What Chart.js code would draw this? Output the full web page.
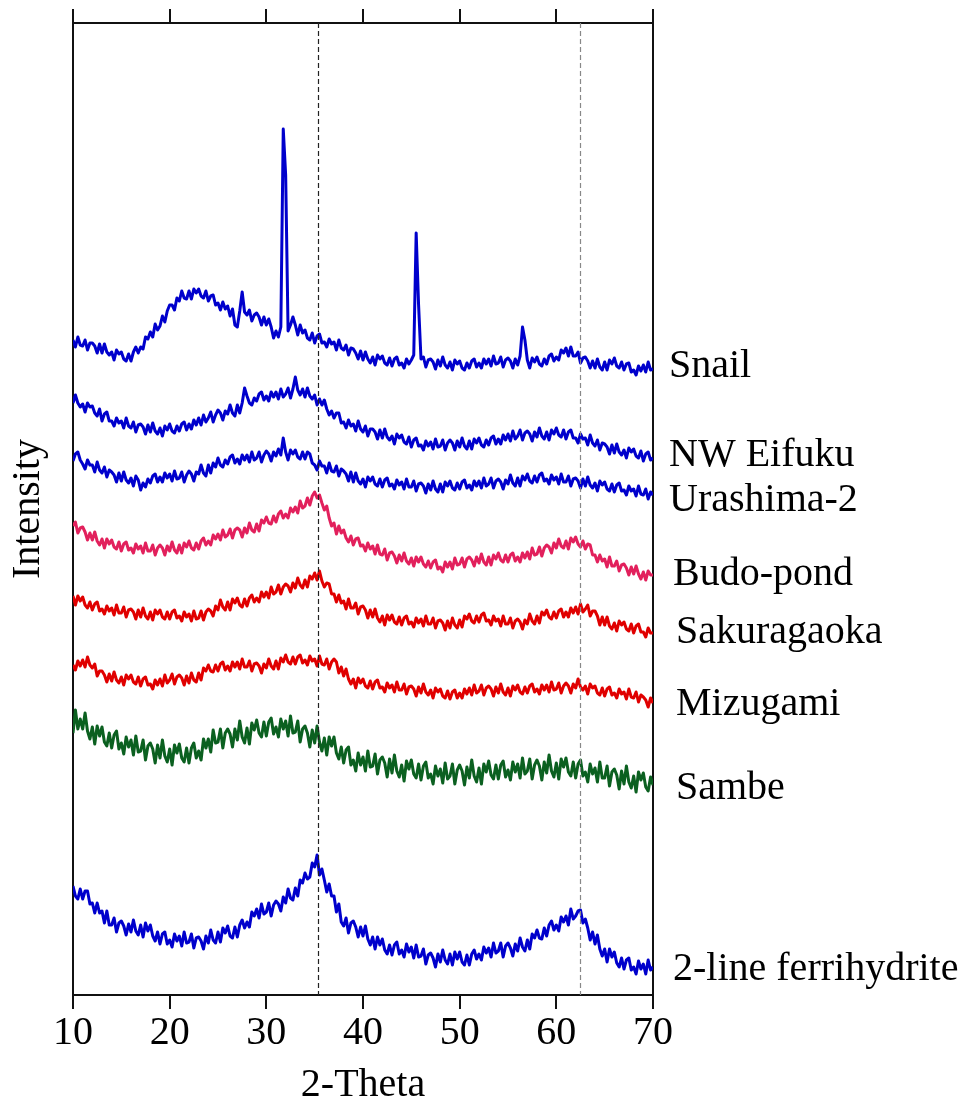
<!DOCTYPE html>
<html>
<head>
<meta charset="utf-8">
<script src="https://cdn.jsdelivr.net/npm/chart.js@4.4.1/dist/chart.umd.min.js"></script>
<style>
  html, body { margin: 0; padding: 0; background: #fff; }
</style>
</head>
<body>
<canvas id="xrdChart" width="967" height="1115"></canvas>
<script>
// 2-theta grid: 10..70 deg, 0.25 deg steps (241 points per pattern)
const twoTheta = [];
for (let i = 0; i <= 240; i++) twoTheta.push(10 + i * 0.25);

// patterns are stacked, intensities already carry their offset
const snail = [
 655,648,658,650, 649,655,645,652, 652,649,642,651, 642,651,643,640, 643,635,645,641,
 643,636,634,641, 634,643,648,642, 648,646,658,656, 663,658,671,665, 669,679,673,684,
 690,690,685,697, 694,704,697,696, 704,696,706,702, 706,699,697,704, 694,699,700,690,
 692,685,693,686, 689,679,686,670, 668,684,703,683, 680,685,674,680, 682,678,670,678,
 670,676,668,657, 664,658,668,866, 820,664,670,678, 670,660,670,662, 665,657,655,662,
 652,659,661,652, 653,648,656,651, 653,645,655,647, 645,650,640,647, 646,642,636,644,
 635,643,636,632, 638,630,640,636, 639,632,630,637, 629,636,638,630, 632,627,636,631,
 635,640,762,690, 636,638,628,635, 636,633,626,635, 629,638,630,627, 633,625,635,631,
 634,627,625,632, 627,634,636,628, 632,627,636,631, 636,629,639,631, 632,638,628,635,
 637,634,627,636, 630,639,668,655, 635,627,637,633, 638,631,629,636, 631,639,641,634,
 638,635,645,642, 647,639,648,639, 639,643,632,637, 638,634,627,634, 627,636,628,625,
 633,625,635,631, 637,629,627,633, 625,631,632,623, 625,620,629,624, 630,623,633,625,
 626];

const nwEifuku = [
 592,600,592,588, 591,583,592,588, 589,582,579,586, 574,581,583,574, 574,569,577,572,
 574,567,577,569, 567,573,563,570, 571,568,561,570, 563,572,564,561, 567,559,569,565,
 571,564,562,569, 564,571,573,565, 571,566,575,570, 577,570,580,573, 577,583,573,580,
 585,582,575,584, 581,590,582,579, 590,582,592,607, 599,592,590,597, 594,601,603,595,
 599,594,603,598, 603,596,606,598, 601,607,597,606, 618,605,600,606, 598,607,599,596,
 600,590,596,590, 595,586,580,584, 577,582,582,572, 573,567,575,569, 571,564,574,566,
 563,569,559,566, 566,563,556,565, 557,566,558,555, 559,551,561,557, 560,553,551,558,
 548,555,557,549, 550,545,554,549, 553,546,556,548, 549,555,545,552, 555,552,545,554,
 548,557,549,546, 554,546,556,552, 557,550,548,555, 550,557,559,551, 556,551,560,555,
 561,554,564,556, 559,565,555,562, 564,561,554,563, 558,567,559,556, 563,555,565,561,
 567,560,558,565, 556,563,565,557, 557,552,561,556, 557,550,560,552, 549,555,545,552,
 551,548,541,550, 542,551,543,540, 545,537,547,543, 546,539,537,544, 534,541,543,535,
 537];

const urashima2 = [
 534,541,543,535, 531,526,535,530, 530,523,533,525, 522,528,518,525, 523,520,513,522,
 514,523,515,512, 517,509,519,515, 505,512,508,516, 512,519,521,513, 518,513,522,517,
 521,514,524,516, 517,523,513,520, 524,521,514,523, 521,530,522,519, 530,522,532,528,
 537,530,528,535, 531,538,540,532, 536,531,540,535, 540,533,543,535, 537,543,533,540,
 544,541,534,543, 539,546,540,557, 543,535,545,541, 545,538,536,543, 536,543,541,532,
 530,525,534,529, 529,522,532,524, 523,529,519,526, 524,521,514,523, 513,522,514,511,
 516,508,518,514, 518,511,509,516, 508,515,517,509, 511,506,515,510, 513,506,516,508,
 508,514,504,511, 512,509,502,511, 505,514,506,503, 511,503,513,509, 514,507,505,512,
 506,513,515,507, 510,505,514,509, 514,507,517,509, 511,517,507,514, 516,513,506,515,
 511,520,512,509, 517,509,519,515, 521,514,512,519, 513,520,522,514, 516,511,520,515,
 518,511,521,513, 513,519,509,516, 517,514,507,516, 509,518,510,507, 512,504,514,510,
 513,506,504,511, 503,510,512,504, 505,500,509,504, 506,499,509,501, 500,506,496,503,
 500];

const budoPond = [
 469,473,462,467, 468,463,455,462, 455,463,454,450, 456,447,456,451, 455,448,446,453,
 444,451,453,445, 447,442,451,446, 449,442,452,444, 444,450,440,447, 450,447,440,449,
 444,453,445,442, 450,442,452,448, 454,447,445,452, 446,454,457,450, 454,450,460,456,
 461,455,465,458, 460,466,457,465, 467,465,458,467, 462,472,465,463, 471,464,475,472,
 478,472,471,479, 473,481,484,477, 481,477,487,483, 488,482,494,487, 489,497,490,499,
 503,497,500,492, 485,489,477,469, 472,461,469,462, 465,457,453,459, 450,456,457,449,
 450,444,452,446, 449,441,450,441, 440,446,435,442, 443,439,432,440, 434,442,434,431,
 437,429,438,433, 438,431,428,434, 427,433,435,426, 428,423,433,428, 433,426,437,430,
 431,437,428,436, 438,435,429,438, 432,441,433,430, 438,430,440,436, 442,435,433,440,
 433,440,442,434, 438,433,442,437, 443,436,447,440, 441,448,439,447, 450,448,442,452,
 447,456,449,447, 454,446,457,453, 458,451,448,454, 446,451,450,440, 440,433,440,434,
 436,428,438,429, 429,434,424,430, 431,427,420,428, 421,429,421,416, 423,415,424,420,
 420];

const sakuragaoka = [
 399,390,399,394, 398,390,387,393, 385,391,393,384, 386,381,389,384, 387,380,390,382,
 382,388,378,385, 386,383,376,385, 378,387,379,376, 383,375,385,381, 385,378,376,383,
 376,383,385,377, 379,374,383,378, 381,374,384,376, 377,384,375,383, 386,384,379,389,
 385,395,388,385, 393,385,396,392, 397,390,388,396, 389,397,400,393, 397,393,403,398,
 403,397,408,401, 403,410,401,408, 411,409,403,412, 407,417,410,407, 415,408,419,416,
 422,415,424,414, 408,412,411,401, 401,393,400,392, 394,386,396,387, 387,392,381,388,
 389,385,377,385, 378,386,377,373, 379,370,380,375, 380,373,371,378, 370,377,379,371,
 373,368,377,372, 376,369,379,371, 371,377,367,374, 375,372,365,374, 367,377,370,367,
 375,368,379,376, 381,374,372,379, 373,380,382,374, 375,370,379,374, 376,369,379,371,
 371,377,367,374, 376,373,366,375, 371,381,374,371, 379,372,383,380, 385,378,376,383,
 377,384,386,378, 383,378,387,382, 388,381,391,383, 386,390,379,384, 384,379,370,378,
 370,378,369,366, 372,364,374,370, 373,366,364,371, 362,369,371,363, 363,358,367,362,
 362];

const mizugami = [
 330,325,334,329, 335,328,338,330, 327,331,319,324, 324,320,313,321, 314,323,315,312,
 318,310,320,316, 320,313,311,318, 309,316,318,310, 311,306,315,310, 316,309,320,312,
 315,321,311,318, 320,317,310,319, 312,322,315,313, 322,315,327,324, 330,324,323,330,
 324,331,333,325, 329,324,333,328, 333,326,336,328, 328,334,324,331, 332,329,322,331,
 327,336,329,326, 334,326,337,333, 340,333,331,338, 331,338,340,332, 335,330,339,334,
 336,329,339,331, 330,336,326,333, 336,333,322,328, 319,326,316,311, 316,307,317,312,
 316,309,307,314, 306,313,315,307, 308,303,312,307, 310,303,313,305, 305,311,301,308,
 309,306,299,308, 302,311,303,300, 305,297,307,303, 306,299,297,304, 296,303,305,297,
 302,297,306,301, 307,300,310,302, 304,310,300,307, 309,306,299,308, 302,311,303,300,
 307,299,309,305, 310,303,301,308, 302,309,311,303, 306,301,310,305, 310,303,313,305,
 306,312,302,309, 312,309,302,311, 307,316,308,305, 309,301,311,307, 309,302,300,307,
 299,306,308,300, 302,297,306,301, 303,296,306,298, 297,303,293,300, 298,295,288,297,
 292];

const sambe = [
 262,285,266,276, 266,282,264,256, 268,251,269,259, 268,253,249,262, 247,260,264,246,
 252,241,258,248, 255,240,259,243, 244,255,235,249, 252,246,232,250, 237,255,239,233,
 246,230,250,242, 251,237,233,247, 232,247,252,237, 244,235,256,247, 256,243,265,252,
 253,266,247,262, 266,261,248,266, 255,274,258,252, 267,251,272,265, 275,262,258,273,
 259,273,277,261, 268,258,276,266, 274,259,279,262, 263,274,253,266, 269,262,248,265,
 252,269,253,244, 257,240,258,249, 258,242,236,248, 232,245,248,230, 235,224,242,230,
 238,224,244,228, 229,241,221,235, 238,232,218,236, 222,240,224,218, 230,214,234,226,
 235,221,217,231, 215,229,233,217, 221,211,229,219, 226,212,232,216, 219,231,211,225,
 230,224,210,228, 217,235,219,213, 227,211,231,223, 234,220,216,230, 216,230,234,218,
 225,215,233,223, 231,217,237,221, 224,236,216,230, 235,229,215,233, 222,240,224,218,
 232,216,236,228, 237,223,219,233, 217,231,235,219, 223,213,231,221, 227,213,233,217,
 217,229,209,223, 226,220,206,224, 211,229,213,207, 219,203,223,215, 222,208,204,218,
 210];

const ferrihydrite = [
 109,99,96,106, 96,104,104,91, 92,82,92,82, 84,72,84,70, 70,77,63,72,
 74,69,60,71, 63,75,64,60, 70,58,72,64, 70,59,54,63, 51,61,63,51,
 55,48,61,54, 59,49,63,52, 53,61,47,57, 58,54,46,59, 52,65,55,52,
 63,53,67,62, 69,59,57,68, 58,70,75,67, 73,68,83,79, 86,77,91,81,
 83,92,79,90, 94,91,84,98, 92,106,97,95, 107,99,115,112, 122,116,118,132,
 128,140,120,126, 115,103,111,99, 99,83,91,73, 69,77,62,72, 74,68,58,68,
 59,69,56,50, 58,46,58,50, 56,45,41,50, 40,50,53,41, 45,38,51,43,
 48,37,50,38, 39,46,31,40, 42,37,28,41, 33,45,35,31, 41,30,43,36,
 43,33,30,40, 30,41,45,36, 41,35,48,42, 47,38,52,42, 44,52,38,49,
 52,47,39,51, 44,57,48,44, 55,46,61,57, 65,57,56,67, 59,70,74,65,
 70,64,78,73, 79,70,86,76, 79,84,85,72, 76,67,55,63, 51,60,46,39,
 46,33,46,38, 43,32,28,37, 26,35,37,25, 28,21,34,26, 31,21,35,25,
 28];

const samples = ["Snail", "NW Eifuku", "Urashima-2", "Budo-pond", "Sakuragaoka", "Mizugami", "Sambe", "2-line ferrihydrite"];
const patterns = [snail, nwEifuku, urashima2, budoPond, sakuragaoka, mizugami, sambe, ferrihydrite];
const colors = ["#0000cc", "#0000cc", "#0000cc", "#e2205c", "#e00000", "#e00000", "#0b6020", "#0000cc"];

// where each sample name sits on the intensity axis, and its gap from the frame
const labelLevel = [618, 529, 484, 410, 352, 280, 196, 15];
const labelGap = [16, 16, 16, 20, 23, 23, 23, 20];

// ferrihydrite reflections marked with dashed lines
const refPeaks = [35.3, 62.4];
const refColors = ["#222", "#888"];

const serif = "'Liberation Serif', 'Times New Roman', serif";

const refLines = {
  id: "refLines",
  afterDatasetsDraw(chart) {
    const { ctx, chartArea, scales: { x } } = chart;
    ctx.save();
    ctx.lineWidth = 1.2;
    ctx.setLineDash([5, 3]);
    refPeaks.forEach((t, i) => {
      const px = Math.round(x.getPixelForValue(t)) + 0.5;
      ctx.strokeStyle = refColors[i];
      ctx.beginPath();
      ctx.moveTo(px, chartArea.top);
      ctx.lineTo(px, chartArea.bottom);
      ctx.stroke();
    });
    ctx.restore();
  }
};

const sampleNames = {
  id: "sampleNames",
  afterDraw(chart) {
    const { ctx, chartArea, scales: { y } } = chart;
    ctx.save();
    ctx.font = "40px " + serif;
    ctx.fillStyle = "#000";
    ctx.textAlign = "left";
    ctx.textBaseline = "alphabetic";
    samples.forEach((name, i) => {
      ctx.fillText(name, chartArea.right + labelGap[i], y.getPixelForValue(labelLevel[i]));
    });
    ctx.restore();
  }
};

const ctx = document.getElementById("xrdChart").getContext("2d");

new Chart(ctx, {
  type: "line",
  data: {
    datasets: patterns.map((p, i) => ({
      label: samples[i],
      data: p.map((v, k) => ({ x: twoTheta[k], y: v })),
      borderColor: colors[i],
      borderWidth: 3,
      borderJoinStyle: "round",
      pointRadius: 0,
      tension: 0,
      fill: false
    }))
  },
  options: {
    responsive: false,
    animation: false,
    layout: { padding: { left: 0, right: 314, top: 0, bottom: 0 } },
    plugins: {
      legend: { display: false },
      tooltip: { enabled: false }
    },
    scales: {
      x: {
        type: "linear",
        position: "bottom",
        min: 10,
        max: 70,
        ticks: {
          stepSize: 10,
          autoSkip: false,
          maxRotation: 0,
          padding: 0,
          color: "#000",
          font: { family: serif, size: 40 }
        },
        grid: { drawOnChartArea: false, tickLength: 14, color: "#111", lineWidth: 2 },
        border: { color: "#111", width: 2 },
        title: {
          display: true,
          text: "2-Theta",
          color: "#000",
          font: { family: serif, size: 40 },
          padding: { top: 0, bottom: 6 }
        },
        afterFit(scale) { scale.height = 120; }
      },
      xTop: {
        type: "linear",
        position: "top",
        min: 10,
        max: 70,
        ticks: { stepSize: 10, display: false },
        grid: { drawOnChartArea: false, tickLength: 14, color: "#111", lineWidth: 2 },
        border: { color: "#111", width: 2 },
        afterFit(scale) { scale.height = 23; }
      },
      y: {
        position: "left",
        min: 0,
        max: 972,
        ticks: { display: false },
        grid: { display: false },
        border: { color: "#111", width: 2 },
        title: {
          display: true,
          text: "Intensity",
          color: "#000",
          font: { family: serif, size: 40 },
          padding: { top: 4, bottom: 0 }
        },
        afterFit(scale) { scale.width = 73; }
      },
      yRight: {
        position: "right",
        min: 0,
        max: 972,
        ticks: { display: false },
        grid: { display: false },
        border: { color: "#111", width: 2 },
        afterFit(scale) { scale.width = 0; }
      }
    }
  },
  plugins: [refLines, sampleNames]
});
</script>
</body>
</html>
